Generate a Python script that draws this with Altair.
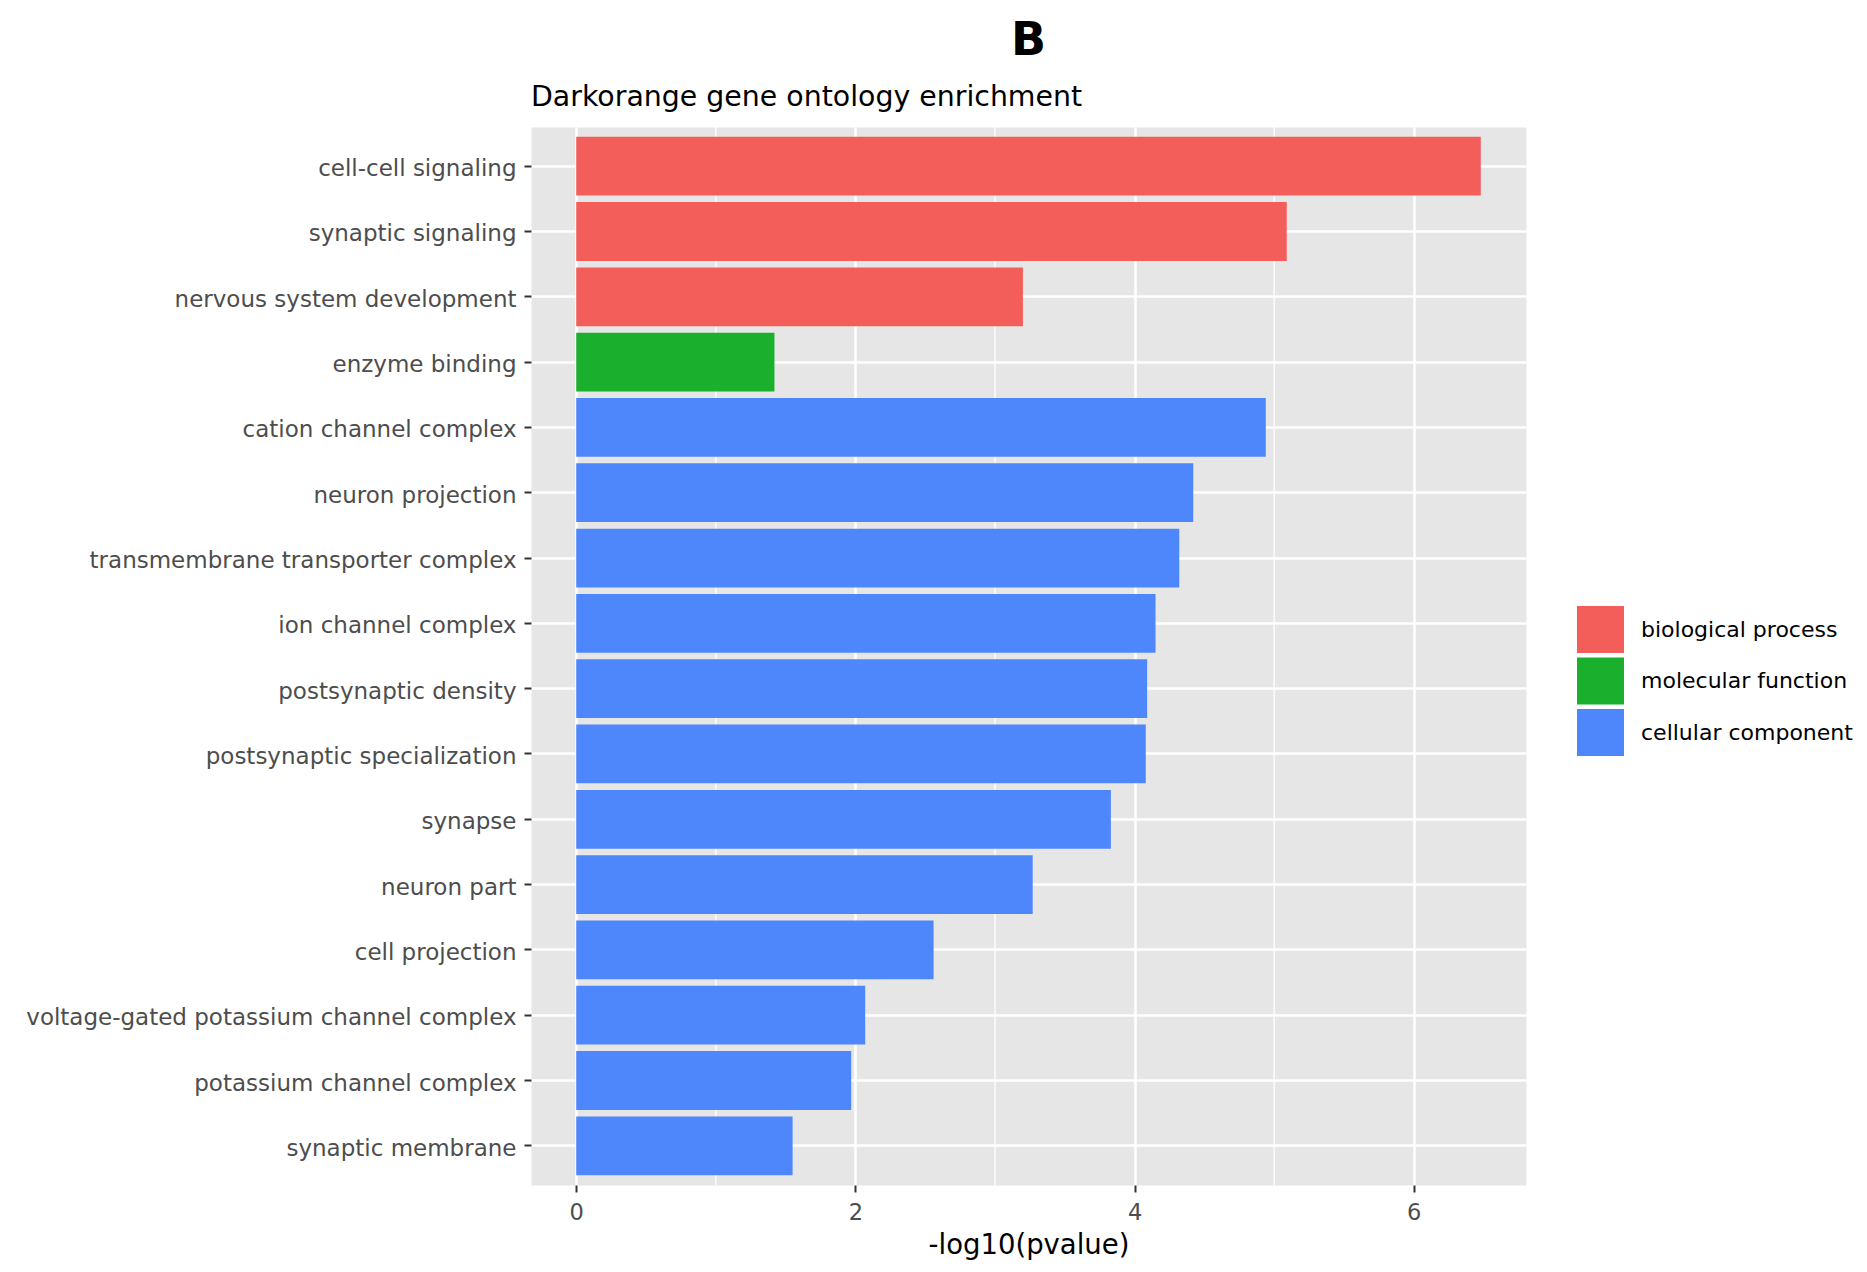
import altair as alt
import pandas as pd

# ---- data ----
terms = [
    "cell-cell signaling",
    "synaptic signaling",
    "nervous system development",
    "enzyme binding",
    "cation channel complex",
    "neuron projection",
    "transmembrane transporter complex",
    "ion channel complex",
    "postsynaptic density",
    "postsynaptic specialization",
    "synapse",
    "neuron part",
    "cell projection",
    "voltage-gated potassium channel complex",
    "potassium channel complex",
    "synaptic membrane",
]
neg_log10_p = [6.48, 5.09, 3.20, 1.42, 4.94, 4.42, 4.32, 4.15, 4.09, 4.08,
               3.83, 3.27, 2.56, 2.07, 1.97, 1.55]
ontology = (["biological process"] * 3 + ["molecular function"]
            + ["cellular component"] * 12)
ontology_order = ["biological process", "molecular function", "cellular component"]
ontology_colors = ["#F35D5A", "#1BAF2E", "#4E86FC"]
x_major_ticks = [0, 2, 4, 6]
x_minor_ticks = [1, 3, 5]
x_domain = [-0.324, 6.804]
plot_title = "B"
plot_subtitle = "Darkorange gene ontology enrichment"
x_title = "-log10(pvalue)"

df = pd.DataFrame({"term": terms, "value": neg_log10_p, "ontology": ontology})
minor_df = pd.DataFrame({"v": x_minor_ticks})

FONT = "DejaVu Sans"
W, H = 995, 1058

x_axis = alt.Axis(
    values=x_major_ticks, title=x_title, grid=True, gridColor="white",
    gridWidth=2.5, domain=False, tickColor="#333333", tickSize=7, tickWidth=2,
    labelFont=FONT, labelFontSize=22.5, labelColor="#4D4D4D", labelPadding=9,
    labelFlush=False, titleFont=FONT, titleFontSize=27.5, titleFontWeight="normal",
    titleColor="black", titlePadding=8,
)
x_scale = alt.Scale(domain=x_domain, nice=False, zero=False)

minor = alt.Chart(minor_df).mark_rule(color="white", strokeWidth=1.3).encode(
    x=alt.X("v:Q", scale=x_scale, axis=x_axis)
)

bars = alt.Chart(df).mark_bar().encode(
    x=alt.X("value:Q", scale=x_scale, axis=x_axis),
    y=alt.Y(
        "term:N", sort=terms,
        scale=alt.Scale(paddingInner=0.1, paddingOuter=0.15),
        axis=alt.Axis(
            title=None, grid=True, gridColor="white", gridWidth=2.5,
            bandPosition=0.5, domain=False, tickColor="#333333", tickSize=7,
            tickWidth=2, labelFont=FONT, labelFontSize=23,
            labelColor="#4D4D4D", labelPadding=8, labelLimit=700,
            labelOffset=3,
        ),
    ),
    color=alt.Color(
        "ontology:N",
        scale=alt.Scale(domain=ontology_order, range=ontology_colors),
        legend=alt.Legend(
            title=None, orient="none", legendX=1046, legendY=479,
            symbolType="square", symbolSize=2209, symbolStrokeWidth=0,
            symbolOffset=0, labelFont=FONT, labelFontSize=22,
            labelColor="black", labelOffset=17, rowPadding=4.5, padding=0,
            labelLimit=400,
        ),
    ),
)

title_b = alt.Chart(pd.DataFrame({"t": [plot_title]})).mark_text(
    font=FONT, fontSize=46, fontWeight="bold", align="center",
    baseline="alphabetic", color="black",
).encode(text="t:N", x=alt.value(W / 2), y=alt.value(-72))

subtitle = alt.Chart(pd.DataFrame({"t": [plot_subtitle]})).mark_text(
    font=FONT, fontSize=28.4, align="left", baseline="alphabetic", color="black",
).encode(text="t:N", x=alt.value(0), y=alt.value(-21))

chart = alt.layer(minor, bars, title_b, subtitle).properties(
    width=W, height=H,
    autosize=alt.AutoSizeParams(type="none"),
    padding={"left": 523, "top": 119, "right": 332, "bottom": 77},
).configure_view(fill="#E6E6E6", stroke="transparent")

chart.save("out.html", embed_options={"renderer": "svg", "actions": False})
